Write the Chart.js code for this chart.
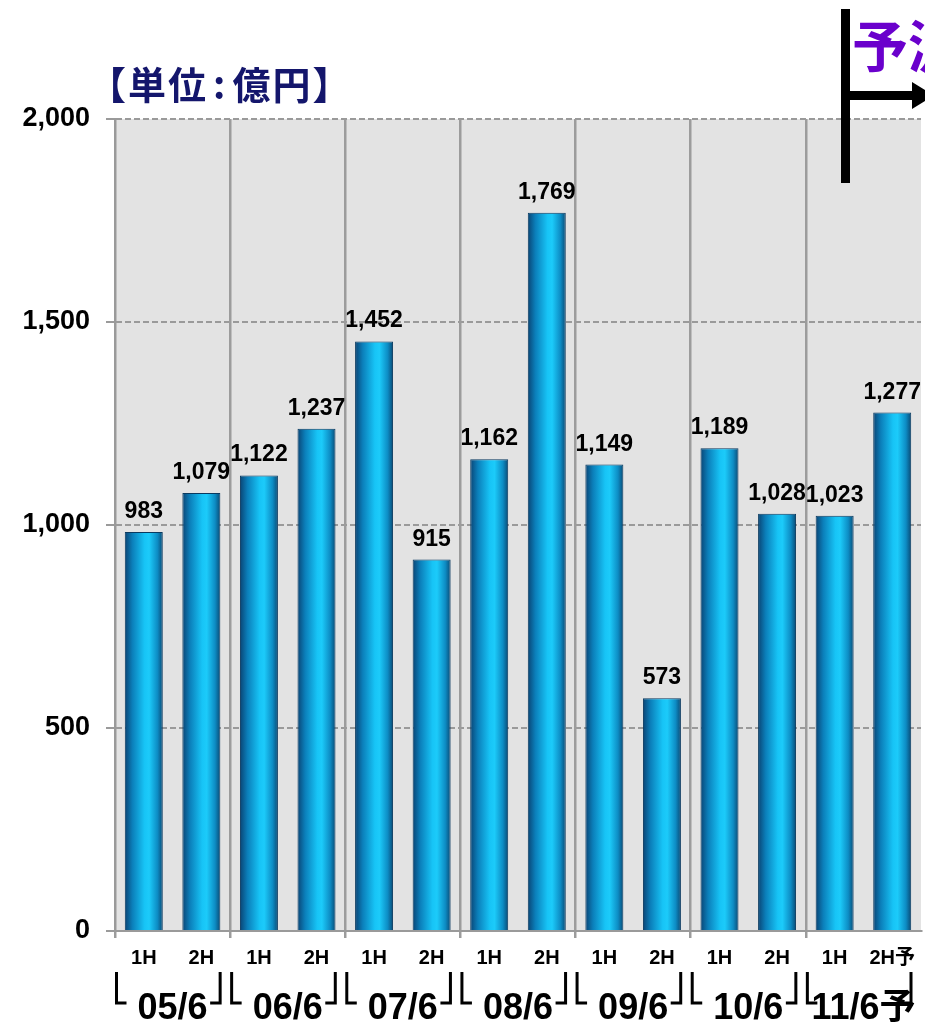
<!DOCTYPE html>
<html><head><meta charset="utf-8">
<script src="https://cdn.jsdelivr.net/npm/chart.js@4"></script>
<style>
html,body{margin:0;padding:0;background:#fff;}
#wrap{position:relative;width:925px;height:1027px;overflow:hidden;}
#c{position:absolute;left:0;top:0;}
#title{position:absolute;left:88px;top:64px;font-weight:bold;font-size:38px;line-height:1;letter-spacing:2px;font-family:"Noto Sans CJK JP";color:#14166c;white-space:nowrap;}
#title .colon{padding:0 5px;}
#yosoku{position:absolute;left:852px;top:15px;font-weight:bold;font-size:56px;line-height:1;font-family:"Noto Sans CJK JP";color:#6a00cc;white-space:nowrap;}
</style></head>
<body>
<div id="wrap">
<canvas id="c" width="925" height="1027"></canvas>
<div id="title">【単位<span class="colon">:</span>億円】</div>
<div id="yosoku">予測</div>
</div>
<script>
const halves = ['1H','2H','1H','2H','1H','2H','1H','2H','1H','2H','1H','2H','1H','2H予'];
const groups = ['05/6','06/6','07/6','08/6','09/6','10/6','11/6予'];
const values = [983,1079,1122,1237,1452,915,1162,1769,1149,573,1189,1028,1023,1277];
const yTicks = [0,500,1000,1500,2000];

const NUMFONT = '"Liberation Sans", Arial, "Noto Sans CJK JP", sans-serif';

function barGradient(ctx) {
  const chart = ctx.chart;
  const xs = chart.scales.x;
  if (!xs || !chart.chartArea || ctx.type !== 'data') return '#1ab8ec';
  const cx = xs.getPixelForValue(ctx.dataIndex);
  const w = (chart.chartArea.right - chart.chartArea.left) / halves.length * 0.66;
  const g = chart.ctx.createLinearGradient(cx - w/2, 0, cx + w/2, 0);
  g.addColorStop(0, '#0a4474');
  g.addColorStop(0.2, '#0b7fba');
  g.addColorStop(0.52, '#17c4f6');
  g.addColorStop(0.64, '#1ccbfa');
  g.addColorStop(0.86, '#0d8cc4');
  g.addColorStop(1, '#0a4a74');
  return g;
}

const bgPlugin = {
  id: 'bg',
  beforeDraw(chart) {
    const a = chart.chartArea, c = chart.ctx;
    c.save(); c.fillStyle = '#e3e3e3';
    c.fillRect(a.left, a.top, a.right - a.left, a.bottom - a.top);
    c.restore();
  }
};

const labelPlugin = {
  id: 'vlabels',
  afterDatasetsDraw(chart) {
    const c = chart.ctx;
    const meta = chart.getDatasetMeta(0);
    c.save();
    c.font = 'bold 23px ' + NUMFONT;
    c.fillStyle = '#000';
    c.textAlign = 'center';
    c.textBaseline = 'alphabetic';
    meta.data.forEach((el, i) => {
      c.fillText(values[i].toLocaleString('en-US'), el.x, el.y - 14);
    });
    c.restore();
  }
};

const decoPlugin = {
  id: 'deco',
  afterDraw(chart) {
    const c = chart.ctx, a = chart.chartArea;
    const n = halves.length;
    const cw = (a.right - a.left) / n;
    c.save();
    c.strokeStyle = '#000';
    c.lineWidth = 3;
    for (let g = 0; g < groups.length; g++) {
      const s = a.left + cw * 2 * g;
      const e = s + cw * 2;
      const L = s + 1.5, R = e - 10;
      c.beginPath();
      c.moveTo(L, 972); c.lineTo(L, 1003); c.lineTo(L + 10, 1003);
      c.stroke();
      c.beginPath();
      c.moveTo(R, 972); c.lineTo(R, 1003); c.lineTo(R - 10, 1003);
      c.stroke();
    }
    // forecast marker
    c.fillStyle = '#000';
    c.fillRect(841, 9, 9, 174);
    c.fillRect(850, 91, 70, 9);
    c.beginPath();
    c.moveTo(912, 82); c.lineTo(934, 95.5); c.lineTo(912, 109); c.closePath();
    c.fill();
    c.restore();
  }
};

function fixX(h) {
  return function (s) { s.height = h; s.paddingLeft = 0; s.paddingRight = 0; };
}

new Chart(document.getElementById('c'), {
  type: 'bar',
  data: {
    labels: halves,
    datasets: [{
      data: values,
      backgroundColor: barGradient,
      borderColor: '#0a3a60',
      borderWidth: 1,
      borderSkipped: 'bottom',
      barPercentage: 0.66,
      categoryPercentage: 1.0,
      xAxisID: 'x'
    }]
  },
  options: {
    responsive: false,
    devicePixelRatio: 1,
    animation: false,
    layout: { padding: { top: 119, right: 4, left: 0, bottom: 0 } },
    plugins: { legend: { display: false }, tooltip: { enabled: false }, title: { display: false } },
    scales: {
      y: {
        min: 0, max: 2000,
        afterBuildTicks(s) { s.ticks = yTicks.map(v => ({ value: v })); },
        afterFit(s) { s.width = 115; s.paddingTop = 0; s.paddingBottom = 0; },
        ticks: {
          font: { family: NUMFONT, size: 27, weight: 'bold' },
          color: '#000',
          padding: 16,
          callback: v => v.toLocaleString('en-US')
        },
        grid: { color: '#9a9a9a', lineWidth: 2, tickLength: 9, tickColor: '#9a9a9a', tickBorderDash: [], tickWidth: 2 },
        border: { display: true, color: '#9a9a9a', width: 2, dash: [6, 3] }
      },
      x: {
        type: 'category',
        position: 'bottom',
        weight: 0,
        afterFit: fixX(42),
        offset: true,
        ticks: {
          font: { family: NUMFONT, size: 20, weight: 'bold' },
          color: '#000',
          padding: 8,
          maxRotation: 0,
          autoSkip: false
        },
        grid: {
          offset: true,
          drawOnChartArea: true,
          color: ctx => (ctx.index % 2 === 0 ? '#9c9c9c' : 'rgba(0,0,0,0)'),
          lineWidth: 2.5,
          tickLength: 7
        },
        border: { display: true, color: '#9a9a9a', width: 2 }
      },
      x2: {
        type: 'category',
        labels: groups,
        position: 'bottom',
        weight: 1,
        offset: true,
        afterFit: fixX(54),
        ticks: {
          font: { family: NUMFONT, size: 36, weight: 'bold' },
          color: '#000',
          padding: 14,
          maxRotation: 0,
          autoSkip: false
        },
        grid: { display: false, drawTicks: false },
        border: { display: false }
      }
    }
  },
  plugins: [bgPlugin, labelPlugin, decoPlugin]
});
</script>
</body></html>
